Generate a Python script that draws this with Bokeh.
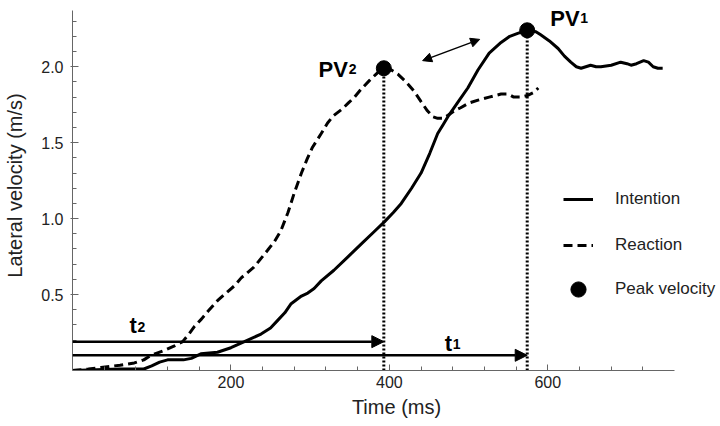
from bokeh.plotting import figure
from bokeh.models import (FixedTicker, Arrow, NormalHead, Label, Legend,
                          LegendItem, Range1d)
from bokeh.embed import file_html
from bokeh.resources import INLINE

# Intention (solid line)
int_t = [0, 30, 60, 90, 100, 110, 120, 140, 150, 162, 183, 200, 217, 238, 250,
         259, 268, 276, 289, 297, 305, 314, 330, 348, 364, 380, 394, 405, 415,
         428, 440, 451, 461, 468, 475, 487, 499, 512, 526, 541, 552, 562, 574,
         585, 591, 602, 613, 621, 629, 636, 642, 648, 654, 661, 667, 680, 692,
         700, 705, 712, 721, 727, 733, 739, 745]
int_v = [0, 0.005, 0.01, 0.01, 0.03, 0.055, 0.07, 0.07, 0.08, 0.11, 0.12, 0.15,
         0.19, 0.24, 0.28, 0.33, 0.38, 0.44, 0.49, 0.51, 0.54, 0.59, 0.66, 0.75,
         0.83, 0.91, 0.98, 1.04, 1.10, 1.20, 1.30, 1.43, 1.56, 1.62, 1.68, 1.77,
         1.86, 1.98, 2.09, 2.16, 2.20, 2.22, 2.24, 2.23, 2.21, 2.17, 2.12, 2.07,
         2.03, 2.00, 1.99, 2.00, 2.01, 2.00, 2.00, 2.01, 2.03, 2.02, 2.01, 2.02,
         2.04, 2.03, 2.00, 1.99, 1.99]

# Reaction (dashed line)
rea_t = [0, 20, 36, 60, 78, 90, 99, 115, 128, 139, 147, 154, 163, 171, 183, 196,
         205, 213, 229, 246, 255, 263, 272, 280, 289, 296, 303, 314, 322, 330,
         340, 348, 356, 364, 375, 385, 393, 402, 411, 421, 431, 440, 448, 455,
         461, 468, 474, 482, 490, 500, 512, 526, 541, 550, 557, 566, 574, 582, 588]
rea_v = [0, 0.01, 0.02, 0.035, 0.05, 0.07, 0.10, 0.13, 0.16, 0.19, 0.24, 0.29,
         0.34, 0.39, 0.46, 0.52, 0.56, 0.61, 0.68, 0.79, 0.85, 0.92, 1.04, 1.17,
         1.30, 1.39, 1.47, 1.56, 1.63, 1.68, 1.72, 1.76, 1.80, 1.85, 1.91, 1.96,
         1.99, 1.98, 1.95, 1.90, 1.84, 1.77, 1.71, 1.67, 1.66, 1.66, 1.68, 1.71,
         1.73, 1.76, 1.78, 1.80, 1.82, 1.82, 1.80, 1.80, 1.81, 1.83, 1.86]

# peaks: PV1 (intention), PV2 (reaction)
peak_t = [574, 393]
peak_v = [2.24, 1.99]

# arrow levels for t1 and t2
arrow_v = [0.10, 0.19]

# double arrow between the peaks
dbl_t = [442, 514]
dbl_v = [2.04, 2.18]

x_ticks = [200, 400, 600]
x_minor = [40 * i for i in range(1, 19)]
y_ticks = [0.5, 1.0, 1.5, 2.0]
y_minor = [round(0.1 * i, 1) for i in range(1, 24)]

FONT = "Liberation Sans"

# frame runs past the ends of the axes (axis bounds) so that the legend
# and the labels near the top are not clipped
p = figure(width=720, height=426, output_backend="svg", toolbar_location=None,
           x_range=Range1d(0, 818), y_range=Range1d(0, 2.436),
           min_border_left=72, min_border_right=0, min_border_top=0,
           min_border_bottom=56)
p.outline_line_color = None
p.grid.visible = False
p.background_fill_color = "white"

p.xaxis.axis_label = "Time (ms)"
p.yaxis.axis_label = "Lateral velocity (m/s)"
p.xaxis.ticker = FixedTicker(ticks=x_ticks, minor_ticks=x_minor)
p.yaxis.ticker = FixedTicker(ticks=y_ticks, minor_ticks=y_minor)
p.xaxis.bounds = (0, 760)
p.yaxis.bounds = (0, 2.37)
p.yaxis.major_label_overrides = {0.5: "0.5", 1.0: "1.0", 1.5: "1.5", 2.0: "2.0"}
for ax in (p.xaxis, p.yaxis):
    ax.axis_line_color = "#666666"
    ax.major_tick_line_color = "#666666"
    ax.minor_tick_line_color = "#666666"
    ax.major_tick_in = 6
    ax.minor_tick_in = 4
    ax.minor_tick_out = 0
    ax.major_label_text_font = FONT
    ax.major_label_text_font_size = "16px"
    ax.major_label_text_color = "#222222"
    ax.axis_label_text_font = FONT
    ax.axis_label_text_font_size = "20px"
    ax.axis_label_text_font_style = "normal"
    ax.axis_label_text_color = "#222222"
p.xaxis.major_tick_out = 0
p.yaxis.major_tick_out = 2
p.xaxis.major_label_standoff = 5
p.xaxis.axis_label_standoff = 5
p.yaxis.major_label_standoff = 7
p.yaxis.axis_label_standoff = 12

# dotted drops from the peaks
p.segment(x0=peak_t, y0=[0, 0], x1=peak_t, y1=peak_v, line_color="black",
          line_width=3, line_dash="2 2")

r_int = p.line(int_t, int_v, line_color="black", line_width=3)
r_rea = p.line(rea_t, rea_v, line_color="black", line_width=3, line_dash="9 5")
r_pk = p.scatter(peak_t, peak_v, size=15, color="black")

# t1 / t2 arrows
for tx, vy in zip(peak_t, arrow_v):
    p.add_layout(Arrow(x_start=0, y_start=vy, x_end=tx, y_end=vy,
                       line_width=2.5, line_color="black",
                       end=NormalHead(size=12, fill_color="black",
                                      line_color="black")))

p.add_layout(Arrow(x_start=dbl_t[0], y_start=dbl_v[0], x_end=dbl_t[1],
                   y_end=dbl_v[1], line_width=1.5, line_color="black",
                   start=NormalHead(size=9, fill_color="black", line_color="black"),
                   end=NormalHead(size=9, fill_color="black", line_color="black")))


def lab(x, y, text, dx, dy, size, align="left"):
    p.add_layout(Label(x=x, y=y, text=text, x_offset=dx, y_offset=dy,
                       text_font=FONT, text_font_size=size,
                       text_font_style="bold", text_align=align,
                       text_baseline="alphabetic", text_color="black"))


# PV labels
lab(peak_t[1], peak_v[1], "PV", -36, -1, "22px", "right")
lab(peak_t[1], peak_v[1], "2", -35, -1, "14px")
lab(peak_t[0], peak_v[0], "PV", 23, 12, "22px")
lab(peak_t[0], peak_v[0], "1", 53, 12, "14px")
# t labels
lab(0, arrow_v[1], "t", 57, 16, "22px")
lab(0, arrow_v[1], "2", 65, 15, "14px")
lab(peak_t[1], arrow_v[0], "t", 61, 12, "22px")
lab(peak_t[1], arrow_v[0], "1", 69, 11, "14px")

leg_style = dict(padding=0, margin=0, label_text_font=FONT,
                 label_text_font_size="17px", label_text_color="#222222",
                 border_line_color=None, background_fill_alpha=0)
legend_lines = Legend(items=[LegendItem(label="Intention", renderers=[r_int]),
                             LegendItem(label="Reaction", renderers=[r_rea])],
                      location=(491, 115), spacing=26, glyph_width=30,
                      glyph_height=20, label_height=20, label_standoff=22,
                      **leg_style)
# bigger glyph box so the legend dot matches the plotted peaks
legend_dot = Legend(items=[LegendItem(label="Peak velocity", renderers=[r_pk])],
                    location=(487, 62), glyph_width=38, glyph_height=38,
                    label_height=20, label_standoff=18, **leg_style)
p.add_layout(legend_lines)
p.add_layout(legend_dot)

open("out.html", "w").write(file_html(p, INLINE))
